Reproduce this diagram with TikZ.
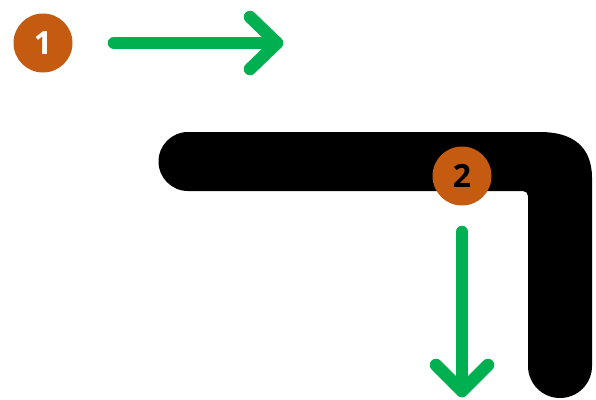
\documentclass[tikz,border=0pt]{standalone}
\usepackage{fontspec}
\setmainfont{Open Sans}
\usepackage{tikz}
\usetikzlibrary{calc}
\definecolor{badgeOrange}{HTML}{C55A11}
\definecolor{moveGreen}{HTML}{00B050}

\begin{document}
\begin{tikzpicture}[x=1pt, y=-1pt,
        badge/.style={circle, fill=badgeOrange, minimum size=59pt, inner sep=0pt,
            font=\bfseries\fontsize{32}{32}\selectfont},
        move/.style={moveGreen, line width=12.5pt, line cap=round, line join=round}]
        \useasboundingbox (0,0) rectangle (596,399);

        % 太い黒のバー(角を曲がって下へ)
        \fill[black] (188,132) -- (540,132)
            .. controls (572,132) and (592,146) .. (592,178)
            -- (592,366) arc[start angle=0, end angle=180, radius=32]
            -- (528,196) arc[start angle=0, end angle=-90, radius=5]
            -- (188,191) arc[start angle=90, end angle=270, radius=29.5]
            -- cycle;

        % 番号の丸
        \node[badge, text=white] (one) at (43,43) {1};
        \node[badge, text=black] (two) at (462,176) {2};

        % 移動の矢印
        \coordinate (startA) at (114,43);
        \coordinate (tipA) at (277,43);
        \coordinate (startB) at (462,232);
        \coordinate (tipB) at (462,391);

        \draw[move] (startA) -- (tipA);
        \draw[move] ($(tipA)+(-27,-26)$) -- (tipA) -- ($(tipA)+(-27,26)$);
        \draw[move] (startB) -- (tipB);
        \draw[move] ($(tipB)+(-26,-26)$) -- (tipB) -- ($(tipB)+(26,-26)$);
    \end{tikzpicture}
\end{document}
